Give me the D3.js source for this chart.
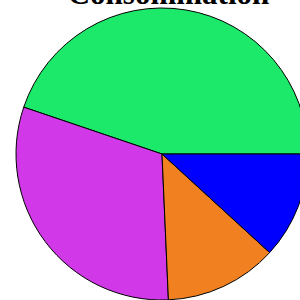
<!DOCTYPE html>
<html><head><meta charset="utf-8">
<script src="https://cdn.jsdelivr.net/npm/d3@7"></script>
<style>html,body{margin:0;padding:0;background:#fff;overflow:hidden}</style>
</head><body>
<svg id="c" width="300" height="300"></svg>
<script>
const title = "Consommation";
const categories = ["A", "B", "C", "D"];
const values = [44.8, 30.9, 12.5, 11.8];
const colors = ["#1ce86a", "#d038e8", "#f08020", "#0000ff"];

const svg = d3.select("#c");
const cx = 162, cy = 154, r = 146;
const pie = d3.pie().sort(null).value(d => d.v)
  .startAngle(Math.PI / 2).endAngle(Math.PI / 2 - 2 * Math.PI);
const data = categories.map((c, i) => ({c, v: values[i], col: colors[i]}));
const arc = d3.arc().innerRadius(0).outerRadius(r);
const g = svg.append("g").attr("transform", `translate(${cx},${cy})`);
g.selectAll("path").data(pie(data)).enter().append("path")
  .attr("d", arc).attr("fill", d => d.data.col)
  .attr("stroke", "#000").attr("stroke-width", 1).attr("stroke-linejoin", "round");
svg.append("text").attr("x", 168.5).attr("y", 4).attr("text-anchor", "middle")
  .attr("font-family", "Liberation Serif, Times New Roman, serif")
  .attr("font-weight", "bold").attr("font-size", 31).text(title);
</script>
</body></html>
